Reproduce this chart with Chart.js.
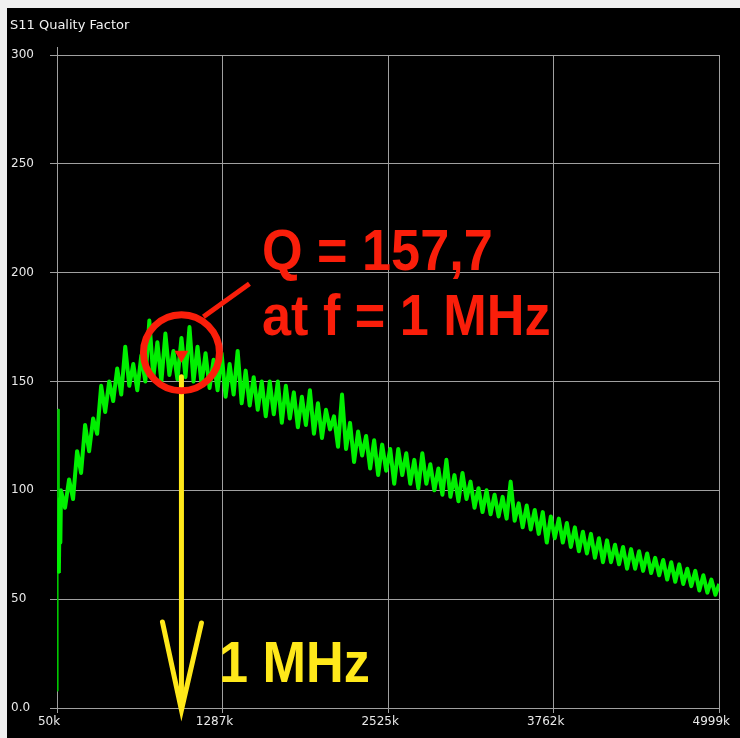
<!DOCTYPE html>
<html>
<head>
<meta charset="utf-8">
<script src="https://cdn.jsdelivr.net/npm/chart.js"></script>
<style>
  body { margin: 0; background: #f0f0f0; }
  #wrap { width: 740px; height: 738px; }
</style>
</head>
<body>
<div id="wrap"><canvas id="qChart" width="740" height="738"></canvas></div>
<script>
  // sweep frequencies (kHz) and measured Q
  const freqK = [
    50, 53, 56, 59, 64, 70, 75, 80, 110, 140,
    170, 200, 230, 260, 290, 320, 350, 380, 410, 440,
    470, 500, 530, 560, 590, 620, 650, 680, 710, 740,
    770, 800, 830, 860, 890, 920, 950, 980, 1010, 1040,
    1070, 1100, 1130, 1160, 1190, 1220, 1250, 1280, 1310, 1340,
    1370, 1400, 1430, 1460, 1490, 1520, 1550, 1580, 1610, 1640,
    1670, 1700, 1730, 1760, 1790, 1820, 1850, 1880, 1910, 1940,
    1970, 2000, 2030, 2060, 2090, 2120, 2150, 2180, 2210, 2240,
    2270, 2300, 2330, 2360, 2390, 2420, 2450, 2480, 2510, 2540,
    2570, 2600, 2630, 2660, 2690, 2720, 2750, 2780, 2810, 2840,
    2870, 2900, 2930, 2960, 2990, 3020, 3050, 3080, 3110, 3140,
    3170, 3200, 3230, 3260, 3290, 3320, 3350, 3380, 3410, 3440,
    3470, 3500, 3530, 3560, 3590, 3620, 3650, 3680, 3710, 3740,
    3770, 3800, 3830, 3860, 3890, 3920, 3950, 3980, 4010, 4040,
    4070, 4100, 4130, 4160, 4190, 4220, 4250, 4280, 4310, 4340,
    4370, 4400, 4430, 4460, 4490, 4520, 4550, 4580, 4610, 4640,
    4670, 4700, 4730, 4760, 4790, 4820, 4850, 4880, 4910, 4940,
    4970, 4999
  ];

  const qValues = [
    8, 47, 68, 137, 62, 96, 76, 100, 92, 105,
    96, 118, 108, 130, 118, 133, 126, 148, 136, 150,
    141, 156, 144, 166, 148, 158, 146, 162, 150, 178,
    152, 168, 150, 172, 153, 164, 151, 170, 152, 175,
    150, 166, 149, 163, 147, 160, 146, 163, 143, 158,
    144, 164, 140, 155, 139, 152, 137, 150, 134, 150,
    135, 150, 131, 148, 133, 145, 129, 143, 130, 146,
    126, 140, 124, 137, 128, 134, 120, 144, 119, 131,
    113, 127, 116, 125, 110, 123, 107, 121, 109, 119,
    103, 119, 107, 117, 103, 114, 101, 117, 103, 112,
    100, 110, 98, 114, 97, 107, 95, 108, 96, 104,
    92, 101, 90, 100, 89, 98, 88, 97, 87, 104,
    86, 94, 83, 93, 82, 91, 80, 90, 76, 88,
    78, 87, 76, 85, 74, 83, 72, 81, 71, 80,
    69, 78, 67, 77, 67, 75, 66, 74, 64, 73,
    64, 72, 63, 71, 62, 69, 61, 68, 59, 67,
    58, 66, 57, 64, 56, 63, 54, 61, 53, 59,
    52, 57
  ];

  const xTickValues = [50, 1287.25, 2524.5, 3761.75, 4999];
  const xTickLabels = ['50k', '1287k', '2525k', '3762k', '4999k'];

  // marker annotation
  const markerFreq = 980;
  const markerQ = 157.7;
  const markerText = ['Q = 157,7', 'at f = 1 MHz'];
  const arrowText = '1 MHz';

  const points = freqK.map((f, i) => ({ x: f, y: qValues[i] }));

  const frame = {
    id: 'frame',
    beforeDraw(chart) {
      const ctx = chart.ctx;
      ctx.save();
      ctx.fillStyle = '#f0f0f0';
      ctx.fillRect(0, 0, chart.width, chart.height);
      ctx.fillStyle = '#000000';
      ctx.fillRect(7, 8, chart.width - 7, chart.height - 8);
      ctx.fillStyle = '#f2f2f2';
      ctx.font = '13px "DejaVu Sans"';
      ctx.textBaseline = 'alphabetic';
      ctx.fillText('S11 Quality Factor', 10, 29);
      ctx.restore();
    },
    afterDraw(chart) {
      const ctx = chart.ctx;
      const x = chart.scales.x, y = chart.scales.y;
      const px = x.getPixelForValue(markerFreq);
      const py = y.getPixelForValue(markerQ);
      const bottom = y.getPixelForValue(0);
      ctx.save();
      // axis stub above the top
      ctx.strokeStyle = '#a0a0a0';
      ctx.lineWidth = 1;
      ctx.beginPath();
      ctx.moveTo(x.left + 0.5, y.top - 8);
      ctx.lineTo(x.left + 0.5, y.top);
      ctx.stroke();

      // yellow arrow
      ctx.strokeStyle = '#ffe81a';
      ctx.lineCap = 'round';
      ctx.lineWidth = 5;
      ctx.beginPath();
      ctx.moveTo(px, py + 12);
      ctx.lineTo(px, bottom);
      ctx.stroke();
      ctx.beginPath();
      ctx.moveTo(px - 19, bottom - 86);
      ctx.lineTo(px, bottom + 2);
      ctx.lineTo(px + 20, bottom - 85);
      ctx.stroke();

      // red circle + leader
      ctx.strokeStyle = '#fa1e0a';
      ctx.lineWidth = 7;
      ctx.beginPath();
      ctx.arc(px, py - 12, 38, 0, Math.PI * 2);
      ctx.stroke();
      ctx.lineWidth = 5;
      ctx.lineCap = 'butt';
      ctx.beginPath();
      ctx.moveTo(px + 22, py - 48);
      ctx.lineTo(px + 68, py - 81);
      ctx.stroke();

      // marker triangle
      ctx.fillStyle = '#fa1e0a';
      ctx.beginPath();
      ctx.moveTo(px - 7, py - 14);
      ctx.lineTo(px + 7, py - 14);
      ctx.lineTo(px, py - 2);
      ctx.closePath();
      ctx.fill();

      // texts
      ctx.font = 'bold 58px "Liberation Sans"';
      ctx.textBaseline = 'alphabetic';
      ctx.save();
      ctx.translate(262, 270);
      ctx.scale(0.9, 1);
      ctx.fillText(markerText[0], 0, 0);
      ctx.restore();
      ctx.save();
      ctx.translate(262, 335);
      ctx.scale(0.9, 1);
      ctx.fillText(markerText[1], 0, 0);
      ctx.restore();

      ctx.fillStyle = '#ffe81a';
      ctx.save();
      ctx.translate(219, 682);
      ctx.scale(0.9, 1);
      ctx.fillText(arrowText, 0, 0);
      ctx.restore();
      ctx.restore();
    }
  };

  const config = {
    type: 'line',
    data: {
      datasets: [{
        label: 'S11 Quality Factor',
        data: points,
        borderColor: '#00f000',
        backgroundColor: '#00f000',
        borderWidth: 4,
        borderJoinStyle: 'round',
        segment: {
          borderWidth: (c) => c.p0DataIndex < 4 ? 2 : 4,
          borderColor: (c) => c.p0DataIndex < 4 ? '#00c800' : '#00f000'
        },
        pointRadius: 0,
        tension: 0
      }]
    },
    options: {
      responsive: false,
      animation: false,
      layout: { padding: { left: 11, right: 20, top: 55, bottom: 0 } },
      plugins: {
        legend: { display: false },
        tooltip: { enabled: false }
      },
      scales: {
        x: {
          type: 'linear',
          min: 50,
          max: 4999,
          afterBuildTicks: (scale) => {
            scale.ticks = xTickValues.map(v => ({ value: v }));
          },
          afterFit: (scale) => { scale.height = 30; },
          grid: { color: '#a0a0a0', lineWidth: 1, tickLength: 5 },
          border: { display: true, color: '#a0a0a0' },
          ticks: {
            color: '#e8e8e8',
            font: { family: 'DejaVu Sans', size: 12 },
            padding: 2,
            maxRotation: 0,
            labelOffset: -8,
            callback: (value, index) => xTickLabels[index]
          }
        },
        y: {
          min: 0,
          max: 300,
          afterFit: (scale) => { scale.width = 46; },
          grid: { color: '#a0a0a0', lineWidth: 1, tickLength: 7 },
          border: { display: true, color: '#a0a0a0' },
          ticks: {
            stepSize: 50,
            color: '#e8e8e8',
            crossAlign: 'far',
            font: { family: 'DejaVu Sans', size: 12 },
            callback: (value) => value === 0 ? '0.0' : value
          }
        }
      }
    },
    plugins: [frame]
  };

  const qChart = new Chart(
    document.getElementById('qChart'),
    config
  );
</script>
</body>
</html>
